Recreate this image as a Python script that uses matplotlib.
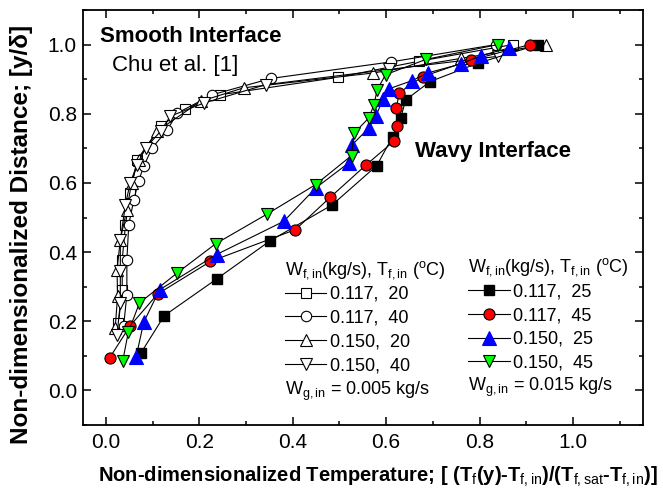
import numpy as np
import matplotlib
matplotlib.use("Agg")
import matplotlib.pyplot as plt
from matplotlib.ticker import MultipleLocator

plt.rcParams['font.family'] = ['Liberation Sans', 'DejaVu Sans']
plt.rcParams['mathtext.fontset'] = 'custom'
plt.rcParams['mathtext.rm'] = 'Liberation Sans'
plt.rcParams['mathtext.it'] = 'Liberation Sans:italic'
plt.rcParams['mathtext.bf'] = 'Liberation Sans:bold'

# smooth interface, Chu et al. [1]  (open symbols, Wg,in = 0.005 kg/s)
sq_x = [0.027, 0.035, 0.035, 0.042, 0.052, 0.067, 0.117, 0.170, 0.245, 0.496, 0.671, 0.871]
sq_y = [0.195, 0.291, 0.378, 0.479, 0.571, 0.667, 0.764, 0.814, 0.855, 0.905, 0.952, 1.000]
ci_x = [0.038, 0.045, 0.045, 0.049, 0.060, 0.070, 0.081, 0.099, 0.131, 0.153, 0.228, 0.353, 0.611, 0.835]
ci_y = [0.185, 0.277, 0.378, 0.479, 0.552, 0.605, 0.648, 0.701, 0.752, 0.802, 0.855, 0.902, 0.950, 1.000]
tu_x = [0.020, 0.025, 0.024, 0.031, 0.045, 0.055, 0.070, 0.110, 0.203, 0.295, 0.573, 0.760, 0.942]
tu_y = [0.180, 0.272, 0.349, 0.436, 0.523, 0.600, 0.667, 0.750, 0.836, 0.875, 0.918, 0.960, 1.000]
td_x = [0.024, 0.031, 0.031, 0.031, 0.042, 0.052, 0.067, 0.085, 0.117, 0.138, 0.210, 0.342, 0.606, 0.839]
td_y = [0.161, 0.253, 0.344, 0.436, 0.537, 0.600, 0.653, 0.701, 0.749, 0.793, 0.831, 0.884, 0.928, 0.966]

# wavy interface (filled symbols, Wg,in = 0.015 kg/s)
bk_x = [0.075, 0.125, 0.238, 0.351, 0.485, 0.580, 0.614, 0.631, 0.642, 0.694, 0.796, 0.926]
bk_y = [0.108, 0.216, 0.323, 0.432, 0.537, 0.650, 0.734, 0.787, 0.840, 0.893, 0.946, 1.000]
rd_x = [0.008, 0.052, 0.111, 0.224, 0.406, 0.480, 0.558, 0.616, 0.624, 0.622, 0.628, 0.678, 0.781, 0.908]
rd_y = [0.094, 0.187, 0.279, 0.373, 0.465, 0.558, 0.653, 0.720, 0.766, 0.816, 0.861, 0.907, 0.955, 1.000]
bl_x = [0.065, 0.081, 0.115, 0.237, 0.381, 0.449, 0.520, 0.528, 0.563, 0.578, 0.594, 0.606, 0.656, 0.689, 0.760, 0.803, 0.863]
bl_y = [0.098, 0.197, 0.291, 0.393, 0.489, 0.585, 0.658, 0.711, 0.759, 0.793, 0.844, 0.872, 0.896, 0.918, 0.944, 0.968, 0.990]
gr_x = [0.036, 0.048, 0.072, 0.153, 0.235, 0.344, 0.449, 0.526, 0.531, 0.563, 0.574, 0.581, 0.599, 0.685, 0.839]
gr_y = [0.084, 0.168, 0.253, 0.340, 0.424, 0.509, 0.595, 0.679, 0.743, 0.788, 0.826, 0.870, 0.913, 0.957, 1.000]

smooth_labels = ['0.117,  20', '0.117,  40', '0.150,  20', '0.150,  40']
wavy_labels = ['0.117,  25', '0.117,  45', '0.150,  25', '0.150,  45']

fig = plt.figure(figsize=(6.63, 4.93), dpi=100)
ax = fig.add_axes([82.5 / 663, 68 / 493, 560.5 / 663, 415 / 493])

lw = 0.8
open_kw = dict(color='black', lw=lw, mfc='white', mec='black', mew=0.8)
h1 = ax.plot(sq_x, sq_y, marker='s', ms=6.5, **open_kw)[0]
h2 = ax.plot(ci_x, ci_y, marker='o', ms=7.5, **open_kw)[0]
h3 = ax.plot(tu_x, tu_y, marker='^', ms=8, **open_kw)[0]
h4 = ax.plot(td_x, td_y, marker='v', ms=8, **open_kw)[0]

g1 = ax.plot(bk_x, bk_y, marker='s', ms=7, color='black', lw=lw, mfc='black', mec='black')[0]
g2 = ax.plot(rd_x, rd_y, marker='o', ms=8, color='black', lw=lw, mfc='#ff0000', mec='black', mew=0.8)[0]
g3 = ax.plot(bl_x, bl_y, marker='^', ms=9.5, color='black', lw=lw, mfc='#0000ff', mec='#0000ff', mew=0.8)[0]
g4 = ax.plot(gr_x, gr_y, marker='v', ms=9, color='black', lw=lw, mfc='#00ff00', mec='black', mew=0.8)[0]

ax.set_xlim(-0.05, 1.15)
ax.set_ylim(-0.1, 1.1)
ax.xaxis.set_major_locator(MultipleLocator(0.2))
ax.xaxis.set_minor_locator(MultipleLocator(0.1))
ax.yaxis.set_major_locator(MultipleLocator(0.2))
ax.yaxis.set_minor_locator(MultipleLocator(0.1))
ax.xaxis.set_major_formatter(plt.FormatStrFormatter('%.1f'))
ax.yaxis.set_major_formatter(plt.FormatStrFormatter('%.1f'))
ax.tick_params(which='both', direction='in', top=True, right=True, width=1.1, labelsize=15)
ax.tick_params(which='major', length=6)
ax.tick_params(which='minor', length=3)
ax.tick_params(axis='x', pad=6)
ax.tick_params(axis='y', pad=4)
for s in ax.spines.values():
    s.set_linewidth(1.3)

ax.set_xlabel(r'Non-dimensionalized Temperature; [ (T$_\mathrm{f}$(y)-T$_\mathrm{f,in}$)/(T$_\mathrm{f,sat}$-T$_\mathrm{f,in}$)]',
              fontsize=14.5, fontweight='bold')
ax.xaxis.set_label_coords(0.527, -0.097)
ax.set_ylabel('Non-dimensionalized Distance; [y/δ]', fontsize=17.5, fontweight='bold')
ax.yaxis.set_label_coords(-0.088, 0.46)

ax.text(0.032, 0.935, 'Smooth Interface', transform=ax.transAxes, fontsize=16, fontweight='bold', va='center')
ax.text(0.052, 0.866, 'Chu et al. [1]', transform=ax.transAxes, fontsize=16, va='center')
ax.text(0.593, 0.659, 'Wavy Interface', transform=ax.transAxes, fontsize=16, fontweight='bold', va='center')

hdr = r'W$_\mathrm{f,in}$(kg/s), T$_\mathrm{f,in}$ ($^\mathrm{o}$C)'
ax.text(0.361, 0.3735, hdr, transform=ax.transAxes, fontsize=13, va='center')
ax.text(0.688, 0.381, hdr, transform=ax.transAxes, fontsize=13, va='center')
ax.text(0.361, 0.08, r'W$_\mathrm{g,in}$ = 0.005 kg/s', transform=ax.transAxes, fontsize=13, va='center')
ax.text(0.688, 0.09, r'W$_\mathrm{g,in}$ = 0.015 kg/s', transform=ax.transAxes, fontsize=13, va='center')

leg_kw = dict(frameon=False, fontsize=13, handlelength=2.3, handletextpad=0.2, labelspacing=0.37,
              borderpad=0, borderaxespad=0, numpoints=1, loc='upper left')
leg1 = ax.legend([h1, h2, h3, h4], smooth_labels, bbox_to_anchor=(0.361, 0.335), **leg_kw)
ax.add_artist(leg1)
ax.legend([g1, g2, g3, g4], wavy_labels, bbox_to_anchor=(0.688, 0.341), **leg_kw)

fig.savefig('out.png', dpi=100)
